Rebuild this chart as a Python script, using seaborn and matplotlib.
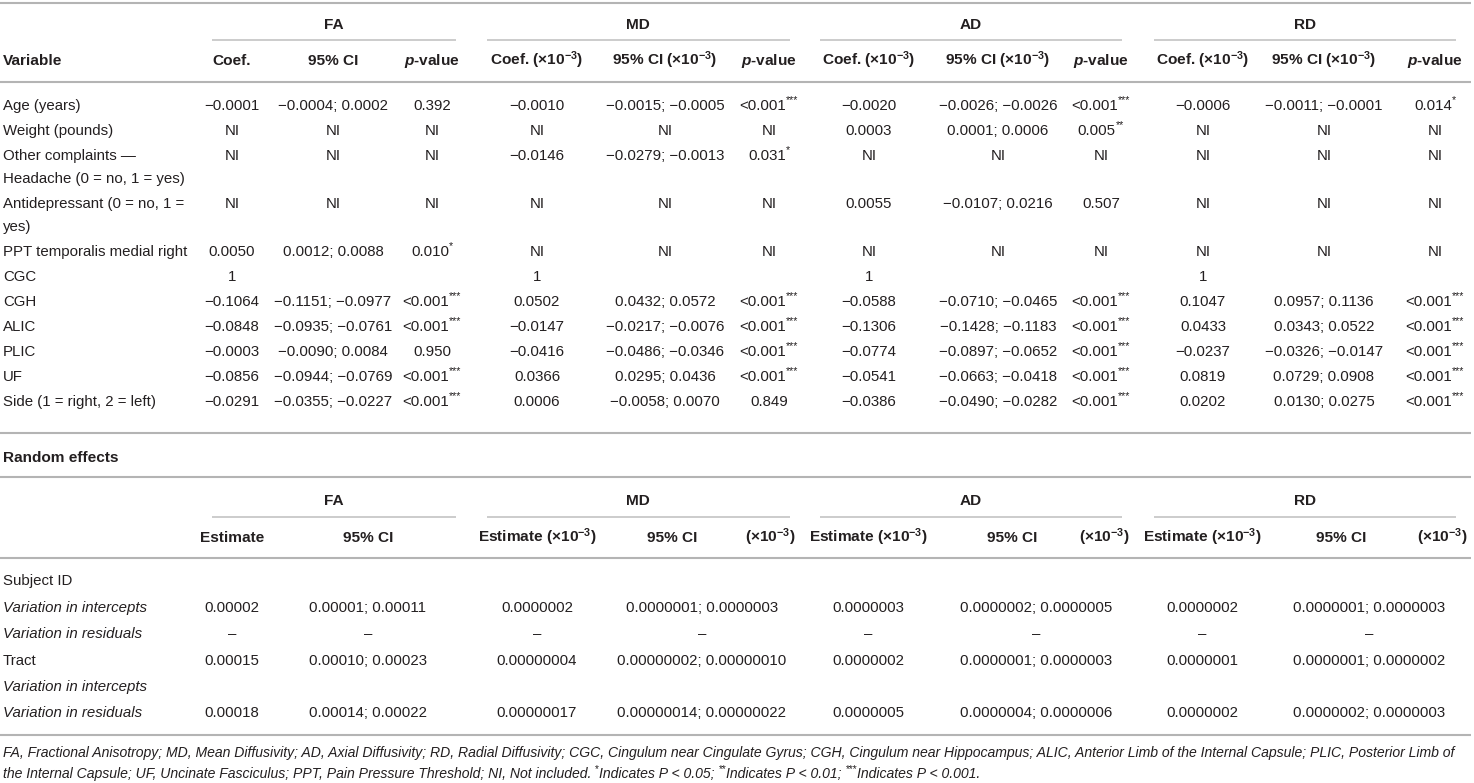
import re
import matplotlib
matplotlib.use("Agg")
import matplotlib.pyplot as plt
import seaborn as sns

sns.set_theme(style="white")
plt.rcParams['font.family'] = ['Liberation Sans', 'DejaVu Sans']
plt.rcParams['mathtext.fontset'] = 'custom'
plt.rcParams['mathtext.rm'] = 'Liberation Sans'
plt.rcParams['mathtext.it'] = 'Liberation Sans:italic'
plt.rcParams['mathtext.bf'] = 'Liberation Sans:bold'
try:
    plt.rcParams['mathtext.bfit'] = 'Liberation Sans:italic:bold'
    HAS_BFIT = True
except KeyError:
    HAS_BFIT = False

# ---------------- data ----------------
groups = ["FA", "MD", "AD", "RD"]
fa_headers = ["Coef.", "95% CI", "p-value"]
scaled_headers = ["Coef. (×10^-3)", "95% CI (×10^-3)", "p-value"]

variables = ["Age (years)", "Weight (pounds)",
             "Other complaints —\nHeadache (0 = no, 1 = yes)",
             "Antidepressant (0 = no, 1 =\nyes)",
             "PPT temporalis medial right", "CGC", "CGH", "ALIC", "PLIC", "UF",
             "Side (1 = right, 2 = left)"]

fa_coef = ["−0.0001", "NI", "NI", "NI", "0.0050", "1", "−0.1064", "−0.0848", "−0.0003", "−0.0856", "−0.0291"]
fa_ci = ["−0.0004; 0.0002", "NI", "NI", "NI", "0.0012; 0.0088", "", "−0.1151; −0.0977",
         "−0.0935; −0.0761", "−0.0090; 0.0084", "−0.0944; −0.0769", "−0.0355; −0.0227"]
fa_p = ["0.392", "NI", "NI", "NI", "0.010*", "", "<0.001***", "<0.001***", "0.950", "<0.001***", "<0.001***"]

md_coef = ["−0.0010", "NI", "−0.0146", "NI", "NI", "1", "0.0502", "−0.0147", "−0.0416", "0.0366", "0.0006"]
md_ci = ["−0.0015; −0.0005", "NI", "−0.0279; −0.0013", "NI", "NI", "", "0.0432; 0.0572",
         "−0.0217; −0.0076", "−0.0486; −0.0346", "0.0295; 0.0436", "−0.0058; 0.0070"]
md_p = ["<0.001***", "NI", "0.031*", "NI", "NI", "", "<0.001***", "<0.001***", "<0.001***", "<0.001***", "0.849"]

ad_coef = ["−0.0020", "0.0003", "NI", "0.0055", "NI", "1", "−0.0588", "−0.1306", "−0.0774", "−0.0541", "−0.0386"]
ad_ci = ["−0.0026; −0.0026", "0.0001; 0.0006", "NI", "−0.0107; 0.0216", "NI", "", "−0.0710; −0.0465",
         "−0.1428; −0.1183", "−0.0897; −0.0652", "−0.0663; −0.0418", "−0.0490; −0.0282"]
ad_p = ["<0.001***", "0.005**", "NI", "0.507", "NI", "", "<0.001***", "<0.001***", "<0.001***", "<0.001***", "<0.001***"]

rd_coef = ["−0.0006", "NI", "NI", "NI", "NI", "1", "0.1047", "0.0433", "−0.0237", "0.0819", "0.0202"]
rd_ci = ["−0.0011; −0.0001", "NI", "NI", "NI", "NI", "", "0.0957; 0.1136",
         "0.0343; 0.0522", "−0.0326; −0.0147", "0.0729; 0.0908", "0.0130; 0.0275"]
rd_p = ["0.014*", "NI", "NI", "NI", "NI", "", "<0.001***", "<0.001***", "<0.001***", "<0.001***", "<0.001***"]

re_title = "Random effects"
re_headers_fa = ["Estimate", "95% CI", ""]
re_headers_scaled = ["Estimate (×10^-3)", "95% CI", "(×10^-3)"]
re_labels = ["Subject ID", "Variation in intercepts", "Variation in residuals",
             "Tract", "Variation in intercepts", "Variation in residuals"]
re_label_italic = [False, True, True, False, True, True]

fa_est = ["", "0.00002", "–", "0.00015", "", "0.00018"]
fa_est_ci = ["", "0.00001; 0.00011", "–", "0.00010; 0.00023", "", "0.00014; 0.00022"]
md_est = ["", "0.0000002", "–", "0.00000004", "", "0.00000017"]
md_est_ci = ["", "0.0000001; 0.0000003", "–", "0.00000002; 0.00000010", "", "0.00000014; 0.00000022"]
ad_est = ["", "0.0000003", "–", "0.0000002", "", "0.0000005"]
ad_est_ci = ["", "0.0000002; 0.0000005", "–", "0.0000001; 0.0000003", "", "0.0000004; 0.0000006"]
rd_est = ["", "0.0000002", "–", "0.0000001", "", "0.0000002"]
rd_est_ci = ["", "0.0000001; 0.0000003", "–", "0.0000001; 0.0000002", "", "0.0000002; 0.0000003"]

footnote = ["FA, Fractional Anisotropy; MD, Mean Diffusivity; AD, Axial Diffusivity; RD, Radial Diffusivity; "
            "CGC, Cingulum near Cingulate Gyrus; CGH, Cingulum near Hippocampus; ALIC, Anterior Limb of the "
            "Internal Capsule; PLIC, Posterior Limb of",
            "the Internal Capsule; UF, Uncinate Fasciculus; PPT, Pain Pressure Threshold; NI, Not included. "
            "*Indicates P < 0.05; **Indicates P < 0.01; ***Indicates P < 0.001."]

# ---------------- layout ----------------
W, H = 1474, 783
TXT = "#231f20"
LINE = "#b4b4b4"
FS = 10.8
HFS = 11.1

fig = plt.figure(figsize=(W / 100, H / 100), dpi=100)
ax = fig.add_axes([0, 0, 1, 1])
ax.set_xlim(0, W)
ax.set_ylim(H, 0)
ax.axis("off")
R = fig.canvas.get_renderer()


def width_of(s, **kw):
    # advance width including trailing spaces (measured with a guard glyph)
    t = ax.text(0, 0, s + "|", **kw)
    g = ax.text(0, 0, "|", **kw)
    w = t.get_window_extent(R).width - g.get_window_extent(R).width
    t.remove()
    g.remove()
    return w


def put(x, y, s, ha="center", bold=False, italic=False, size=FS):
    """Text with superscript asterisks, baseline at y+5."""
    if not s:
        return []
    kw = dict(color=TXT, fontsize=size,
              fontweight="bold" if bold else "normal",
              fontstyle="italic" if italic else "normal",
              va="baseline", ha="left")
    skw = dict(kw, fontsize=size * 0.72, fontstyle="normal")
    parts = [p for p in re.split(r"(\*+)", s) if p]
    widths = []
    for p in parts:
        widths.append(width_of(p, **(skw if p.startswith("*") else kw)))
    total = sum(widths)
    if ha == "center":
        cx = x - total / 2
    elif ha == "right":
        cx = x - total
    else:
        cx = x
    arts = []
    for p, w in zip(parts, widths):
        if p.startswith("*"):
            arts.append(ax.text(cx, y + 5 - size * 0.62, p, **skw))
        else:
            arts.append(ax.text(cx, y + 5, p, **kw))
        cx += w
    return arts


def put_header(x, y, s):
    if s == "p-value" and HAS_BFIT:
        ax.text(x, y + 5, r"$\mathbfit{p}$-value", ha="center", va="baseline",
                color=TXT, fontsize=HFS, fontweight="bold")
    else:
        s2 = s.replace("^-3", "$^{\\mathbf{-3}}$")
        ax.text(x, y + 5, s2, ha="center", va="baseline", color=TXT,
                fontsize=HFS, fontweight="bold")


def hline(y, x0=0, x1=1471, lw=1.5, color=LINE):
    ax.plot([x0, x1], [y, y], color=color, lw=lw, solid_capstyle="butt")


fixed_cols = [[232, 333, 432], [537, 665, 769], [869, 998, 1101], [1203, 1324, 1435]]
group_x = [334, 638, 971, 1305]
group_span = [(212, 456), (487, 790), (820, 1122), (1154, 1456)]

# top part
hline(3)
for g, gx, (a, b) in zip(groups, group_x, group_span):
    put(gx, 24, g, bold=True, size=HFS)
    hline(40, a, b, lw=1.2, color="#c4c4c4")
put(3, 60, "Variable", ha="left", bold=True, size=HFS)
for gi, cols in enumerate(fixed_cols):
    hdrs = fa_headers if gi == 0 else scaled_headers
    for x, h in zip(cols, hdrs):
        put_header(x, 60, h)
hline(82)

fixed_data = [(fa_coef, fa_ci, fa_p), (md_coef, md_ci, md_p),
              (ad_coef, ad_ci, ad_p), (rd_coef, rd_ci, rd_p)]
y = 105
for ri, var in enumerate(variables):
    lines = var.split("\n")
    for li, ln in enumerate(lines):
        put(3, y + 23 * li, ln, ha="left")
    for cols, series in zip(fixed_cols, fixed_data):
        for x, col in zip(cols, series):
            put(x, y, col[ri])
    y += 25 + 23 * (len(lines) - 1)
hline(433)

# random effects
put(3, 457, re_title, ha="left", bold=True, size=HFS)
hline(477)
re_est_x = [232, 537, 868, 1202]
re_ci_x = [368, 702, 1036, 1369]
re_ci_hdr_x = [368, 672, 1012, 1341]
re_unit_x = [None, 770, 1104, 1442]
for gi, (g, gx, (a, b)) in enumerate(zip(groups, group_x, group_span)):
    put(gx, 500, g, bold=True, size=HFS)
    hline(517, a, b, lw=1.2, color="#c4c4c4")
    hdrs = re_headers_fa if gi == 0 else re_headers_scaled
    put_header(re_est_x[gi], 537, hdrs[0])
    put_header(re_ci_hdr_x[gi], 537, hdrs[1])
    if hdrs[2]:
        put_header(re_unit_x[gi], 537, hdrs[2])
hline(558)

re_data = [(fa_est, fa_est_ci), (md_est, md_est_ci), (ad_est, ad_est_ci), (rd_est, rd_est_ci)]
re_y = [580, 607, 633, 660, 686, 712]
for ri, (lab, it) in enumerate(zip(re_labels, re_label_italic)):
    put(3, re_y[ri], lab, ha="left", italic=it)
    for gi, (est, ci) in enumerate(re_data):
        put(re_est_x[gi], re_y[ri], est[ri])
        put(re_ci_x[gi], re_y[ri], ci[ri])
hline(735)

# footnote, font size fitted to the table width
fw = width_of(footnote[0], fontsize=10, fontstyle="italic")
fsize = 10 * (1459 / fw)
put(3, 752, footnote[0], ha="left", italic=True, size=fsize)
put(3, 773, footnote[1], ha="left", italic=True, size=fsize)

fig.savefig("out.png", dpi=100, facecolor="white")
